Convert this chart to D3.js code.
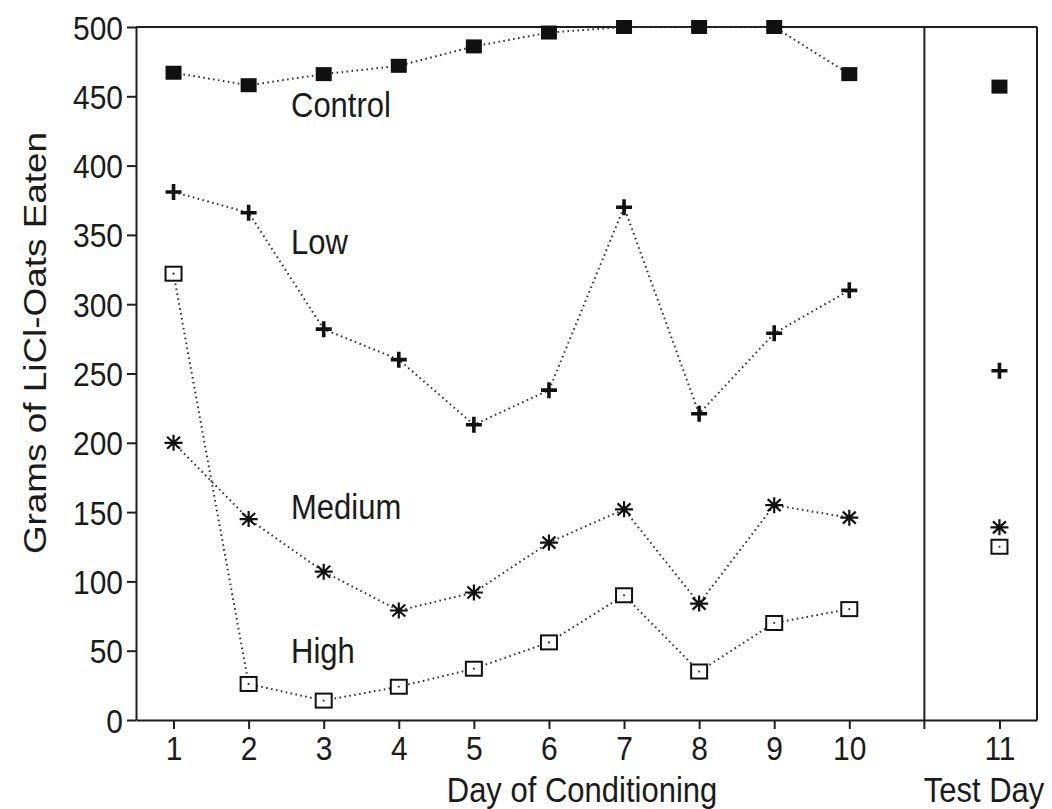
<!DOCTYPE html>
<html>
<head>
<meta charset="utf-8">
<script src="https://cdn.jsdelivr.net/npm/d3@7"></script>
<style>
  body { margin: 0; background: #fff; }
  text { font-family: "Liberation Sans", Arial, Helvetica, sans-serif; fill: #1b1b1b; }
</style>
</head>
<body>
<div id="chart"></div>
<script>
// data
var days = [1, 2, 3, 4, 5, 6, 7, 8, 9, 10];
var testPos = 12;            // where the test day sits on the x scale
var xTickValues = [1, 2, 3, 4, 5, 6, 7, 8, 9, 10, 12];
var xTickLabels = ["1", "2", "3", "4", "5", "6", "7", "8", "9", "10", "11"];
var yTickValues = [0, 50, 100, 150, 200, 250, 300, 350, 400, 450, 500];

var control = [467, 458, 466, 472, 486, 496, 500, 500, 500, 466];
var low     = [381, 366, 282, 260, 213, 238, 370, 221, 279, 310];
var medium  = [200, 145, 107, 79, 92, 128, 152, 84, 155, 146];
var high    = [322, 26, 14, 24, 37, 56, 90, 35, 70, 80];
var testValues = { control: 457, low: 252, medium: 139, high: 125 };

var seriesNames = ["Control", "Low", "Medium", "High"];
var labelValues = [444, 345, 154, 50]; // where the name labels sit (y units)

var width = 1052, height = 809;
var plotLeft = 136, plotRight = 1037, plotTop = 27, plotBottom = 720;
var sy = 1.12; // the scan is a bit taller than wide

var svg = d3.select('#chart').append('svg')
            .attr('width', width)
            .attr('height', height);

var x = d3.scaleLinear().domain([0.5, 12.5]).range([plotLeft, plotRight]);
var y = d3.scaleLinear().domain([0, 500]).range([plotBottom, plotTop]);

var ink = '#1e1e1e';

// axes
var yAxis = d3.axisLeft(y).tickValues(yTickValues).tickSize(9).tickSizeOuter(0);
var xAxis = d3.axisBottom(x).tickValues(xTickValues).tickSize(9).tickSizeOuter(0)
              .tickFormat(function(d, i){ return xTickLabels[i]; });

var gy = svg.append('g').attr('transform', 'translate(' + plotLeft + ',0)').call(yAxis);
var gx = svg.append('g').attr('transform', 'translate(0,' + plotBottom + ')').call(xAxis);

[gx, gy].forEach(function(g){
  g.selectAll('path, line').attr('stroke', ink).attr('stroke-width', 2);
  g.selectAll('text').style('font-size', '30px').attr('fill', ink);
});
gy.selectAll('text').attr('x', -13).attr('dy', '0.36em')
  .attr('transform', 'scale(1,' + sy + ')')
  .attr('y', 0);
gx.selectAll('text').attr('dy', 0).attr('y', 40 / sy)
  .attr('transform', 'scale(1,' + sy + ')');

// frame and separator
svg.append('line').attr('x1', plotLeft).attr('x2', plotRight).attr('y1', plotTop).attr('y2', plotTop)
   .attr('stroke', ink).attr('stroke-width', 2);
svg.append('line').attr('x1', plotRight).attr('x2', plotRight).attr('y1', plotTop).attr('y2', plotBottom)
   .attr('stroke', ink).attr('stroke-width', 2);
svg.append('line').attr('x1', x(11)).attr('x2', x(11)).attr('y1', plotTop).attr('y2', plotBottom + 9)
   .attr('stroke', ink).attr('stroke-width', 2);

// axis titles
function stretchedText(px, py, str, size, anchor) {
  return svg.append('text')
    .attr('transform', 'translate(' + px + ',' + py + ') scale(1,' + sy + ')')
    .attr('text-anchor', anchor || 'start')
    .style('font-size', size + 'px')
    .text(str);
}
stretchedText(582, 802, 'Day of Conditioning', 31, 'middle');
stretchedText(984, 802, 'Test Day', 31, 'middle');

svg.append('text')
   .attr('transform', 'translate(46,343) rotate(-90) scale(1.19,1)')
   .attr('text-anchor', 'middle')
   .style('font-size', '31px')
   .text('Grams of LiCl-Oats Eaten');

// dotted lines
var line = d3.line()
             .x(function(d){ return x(d.x); })
             .y(function(d){ return y(d.y); });

var series = [control, low, medium, high].map(function(vals){
  return vals.map(function(v, i){ return { x: days[i], y: v }; });
});

series.forEach(function(pts){
  svg.append('path').datum(pts)
     .attr('d', line)
     .attr('fill', 'none')
     .attr('stroke', '#333')
     .attr('stroke-width', 2)
     .attr('stroke-dasharray', '1.6,3.4');
});

// markers
function squareFilled(g) {
  g.append('rect').attr('x', -8).attr('y', -7).attr('width', 16).attr('height', 14).attr('fill', '#111');
}
function plusMark(g) {
  g.append('path').attr('d', 'M-8,0H8M0,-8V8').attr('stroke', '#111').attr('stroke-width', 3.6);
}
function starMark(g) {
  g.append('path').attr('d', 'M-9,0H9M0,-8V8M-6.5,-6L6.5,6M-6.5,6L6.5,-6')
   .attr('stroke', '#111').attr('stroke-width', 2.2);
}
function squareOpen(g) {
  g.append('rect').attr('x', -8).attr('y', -7).attr('width', 16).attr('height', 14)
   .attr('fill', '#fff').attr('stroke', '#111').attr('stroke-width', 2);
  g.append('circle').attr('r', 1.1).attr('fill', '#333');
}
var markerFns = [squareFilled, plusMark, starMark, squareOpen];
var testList = [testValues.control, testValues.low, testValues.medium, testValues.high];

series.forEach(function(pts, k){
  var allPts = pts.concat([{ x: testPos, y: testList[k] }]);
  svg.append('g').selectAll('g').data(allPts).enter().append('g')
     .attr('transform', function(d){ return 'translate(' + x(d.x) + ',' + y(d.y) + ')'; })
     .each(function(){ markerFns[k](d3.select(this)); });
});

// series names
seriesNames.forEach(function(name, i){
  stretchedText(291, y(labelValues[i]) + 12, name, 31, 'start');
});
</script>
</body>
</html>
